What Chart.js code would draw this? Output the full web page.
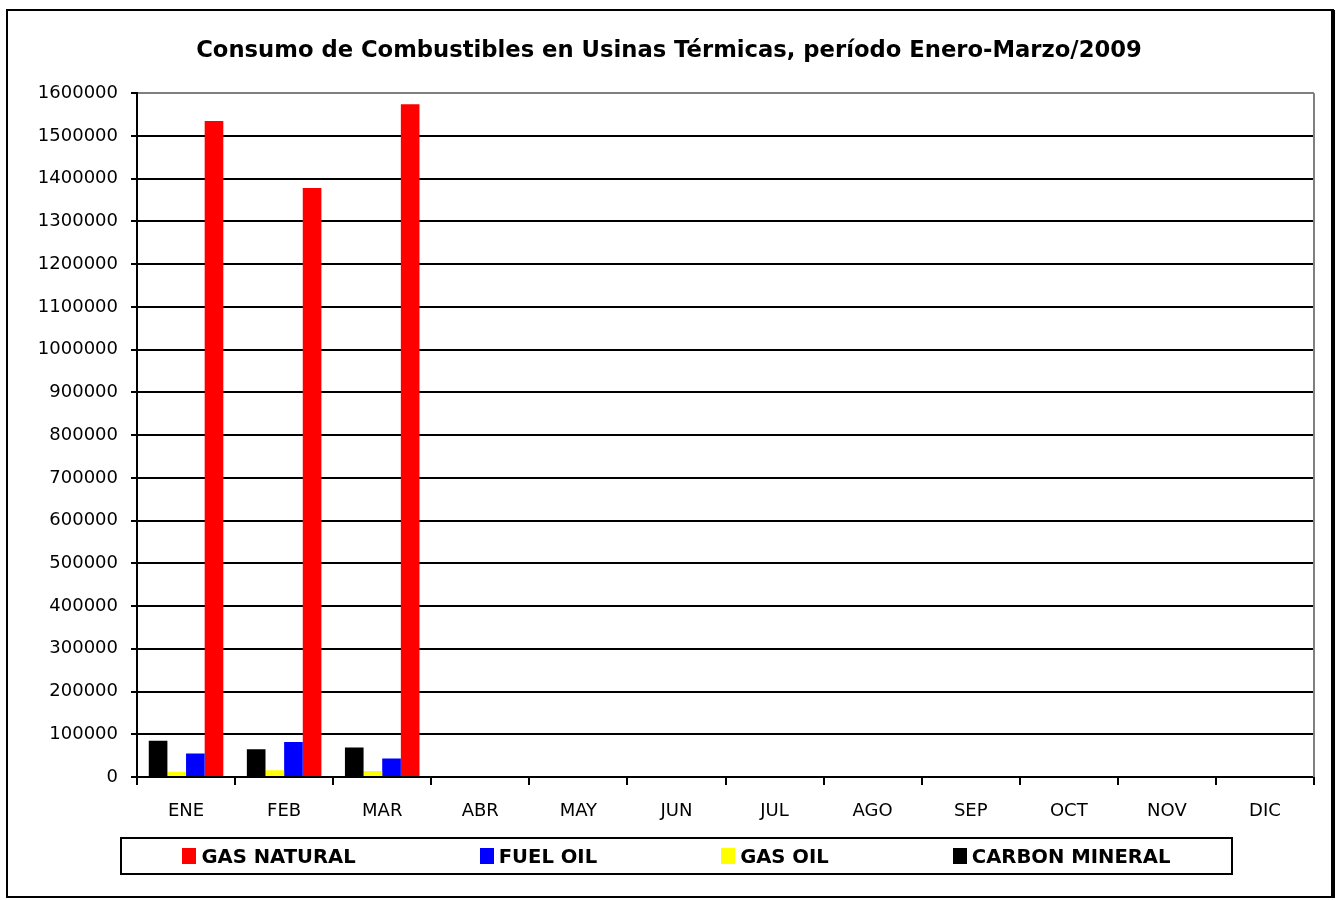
<!DOCTYPE html>
<html lang="es">
<head>
  <meta charset="UTF-8" />
  <title>Consumo de Combustibles en Usinas Térmicas</title>
  <script src="https://cdn.jsdelivr.net/npm/chart.js"></script>
  <style>
    html, body { margin: 0; padding: 0; background: #fff; }
    #wrap { position: relative; width: 1338px; height: 900px; }
    #legend {
      position: absolute; left: 120px; top: 837px; width: 1109px; height: 34px;
      border: 2px solid #000; display: flex; justify-content: center; align-items: center;
      gap: 124px; font: bold 19.6px "DejaVu Sans", sans-serif; color: #000;
    }
    #legend .item { display: flex; align-items: center; gap: 5px; white-space: nowrap; }
    #legend .box { width: 14px; height: 16px; }
  </style>
</head>
<body>
  <div id="wrap">
    <canvas id="chart" width="1338" height="900"></canvas>
    <div id="legend"></div>
  </div>

  <script>
    // data (month, value)
    const months = ["ENE", "FEB", "MAR", "ABR", "MAY", "JUN", "JUL", "AGO", "SEP", "OCT", "NOV", "DIC"];
    const carbonMineral = [85000, 65000, 69000, null, null, null, null, null, null, null, null, null];
    const gasOil = [12000, 16000, 14000, null, null, null, null, null, null, null, null, null];
    const fuelOil = [55000, 82000, 43000, null, null, null, null, null, null, null, null, null];
    const gasNatural = [1535000, 1378000, 1574000, null, null, null, null, null, null, null, null, null];
    const legendOrder = ["GAS NATURAL", "FUEL OIL", "GAS OIL", "CARBON MINERAL"];

    const FONT = "'DejaVu Sans', sans-serif";

    // white background, outer frame, gray plot border on the right
    const framePlugin = {
      id: "frame",
      beforeDraw(chart) {
        const ctx = chart.ctx;
        ctx.save();
        ctx.fillStyle = "#fff";
        ctx.fillRect(0, 0, chart.width, chart.height);
        ctx.restore();
      },
      afterDraw(chart) {
        const ctx = chart.ctx;
        const a = chart.chartArea;
        ctx.save();
        ctx.strokeStyle = "#808080";
        ctx.lineWidth = 2;
        ctx.beginPath();
        ctx.moveTo(a.right, a.top);
        ctx.lineTo(a.right, a.bottom);
        ctx.stroke();
        ctx.strokeStyle = "#000";
        ctx.strokeRect(7, 10, 1326, 887);
        ctx.lineWidth = 4;
        ctx.beginPath();
        ctx.moveTo(1333, 10);
        ctx.lineTo(1333, 898);
        ctx.stroke();
        ctx.restore();
      }
    };

    const chart = new Chart(document.getElementById("chart"), {
      type: "bar",
      data: {
        labels: months,
        datasets: [
          { label: "CARBON MINERAL", data: carbonMineral, backgroundColor: "#000000" },
          { label: "GAS OIL", data: gasOil, backgroundColor: "#FFFF00" },
          { label: "FUEL OIL", data: fuelOil, backgroundColor: "#0000FF" },
          { label: "GAS NATURAL", data: gasNatural, backgroundColor: "#FF0000" }
        ]
      },
      options: {
        responsive: false,
        animation: false,
        devicePixelRatio: 1,
        barPercentage: 1,
        categoryPercentage: 0.76,
        layout: { padding: { top: 20, left: 24, right: 24, bottom: 63 } },
        plugins: {
          legend: { display: false },
          tooltip: { enabled: false },
          title: {
            display: true,
            text: "Consumo de Combustibles en Usinas Térmicas, período Enero-Marzo/2009",
            color: "#000",
            font: { family: FONT, size: 22.7, weight: "bold" },
            padding: { top: 17, bottom: 29 }
          }
        },
        scales: {
          x: {
            afterFit(scale) { scale.height = 60; },
            grid: { offset: true, drawOnChartArea: false, drawTicks: true, tickLength: 8, color: "#000", lineWidth: 2 },
            border: { color: "#000", width: 2 },
            ticks: { color: "#000", font: { family: FONT, size: 18 }, padding: 16 }
          },
          y: {
            min: 0,
            max: 1600000,
            afterFit(scale) { scale.width = 113; },
            grid: {
              color: ctx => (ctx.tick && ctx.tick.value === 1600000 ? "#808080" : "#000"),
              tickColor: "#000",
              lineWidth: 2,
              tickLength: 6
            },
            border: { color: "#000", width: 2 },
            ticks: {
              stepSize: 100000,
              color: "#000",
              padding: 13,
              font: { family: FONT, size: 18 },
              callback: v => String(v)
            }
          }
        }
      },
      plugins: [framePlugin]
    });

    // legend below the plot, in the reference's order
    const legendEl = document.getElementById("legend");
    legendOrder.forEach(name => {
      const ds = chart.data.datasets.find(d => d.label === name);
      const item = document.createElement("div");
      item.className = "item";
      const box = document.createElement("span");
      box.className = "box";
      box.style.background = ds.backgroundColor;
      const txt = document.createElement("span");
      txt.textContent = name;
      item.appendChild(box);
      item.appendChild(txt);
      legendEl.appendChild(item);
    });
  </script>
</body>
</html>
